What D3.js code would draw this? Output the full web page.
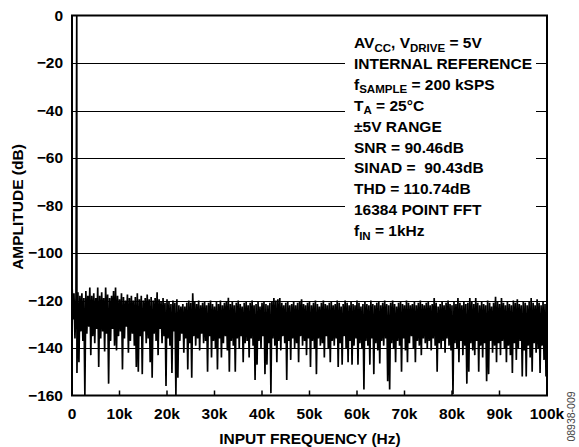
<!DOCTYPE html>
<html><head><meta charset="utf-8">
<script src="https://cdn.jsdelivr.net/npm/d3@7"></script>
<style>
html,body{margin:0;padding:0;background:#fff;}
svg{display:block;font-family:"Liberation Sans",Arial,sans-serif;}
</style></head>
<body>
<svg id="chart" width="579" height="447"></svg>
<script>
// ---- data ----
const yTicks = [0, -20, -40, -60, -80, -100, -120, -140, -160];
const xTicks = [0, 10, 20, 30, 40, 50, 60, 70, 80, 90, 100];
const xTickLabels = ["0","10k","20k","30k","40k","50k","60k","70k","80k","90k","100k"];
const binKHz = 100 / 240;          // spacing of the read-off noise samples (kHz)
const toneKHz = 1.0;               // fundamental
const toneDb = 0;
// upper (peak) readings of the noise floor, one per sample
const noiseHigh = [
-112,-117,-119,-116.5,-118,-117,-119,-116,-118,-114.5,-118,-117,-119,-114.5,-118,-116.5,-119,-114.5,-117.5,-119,
-118,-116,-114.5,-118,-119.5,-117,-118.5,-120,-117.5,-119,-118,-120,-118.5,-117,-119.5,-118,-120,-119,-117.5,-119.5,
-118.5,-120,-119,-116.5,-119.5,-120.5,-119,-121,-119.5,-120.5,-121.5,-120,-121,-119.5,-122,-122.5,-121.5,-122.5,-121,-120,
-121,-117,-120.5,-121.5,-120,-122,-121,-120.5,-122,-121,-120,-121.5,-122.5,-120.5,-121.5,-120,-122,-121,-120.5,-118.8,
-121.5,-120.5,-122,-121,-120,-121.5,-122.5,-121,-120.5,-122,-121,-120,-122,-121.5,-120.5,-122.5,-121,-120.5,-121.5,-122,
-121,-120.5,-119,-120,-119.5,-119,-121,-122,-121,-120.5,-122,-121.5,-120.5,-122,-121,-120.5,-119.5,-121.5,-122,-121,
-120.5,-122,-121,-120,-121.5,-122.5,-121,-120,-121.5,-122,-121,-120.5,-122,-121.5,-120,-121,-122.5,-121.5,-120,-121,
-122,-120.5,-121.5,-122,-120,-121,-122.5,-121.5,-120.5,-121.5,-122,-120,-121.5,-122,-121,-120.5,-122,-121,-120,-121.5,
-122,-121,-120,-121.5,-122.5,-121,-120.5,-121.5,-122,-120,-121,-122,-121.5,-120.5,-122,-121,-120,-121.5,-122,-121,
-120.5,-122,-121.5,-119,-121,-122.5,-121.5,-120.5,-122,-121,-120,-121.5,-122,-120.5,-121.5,-119,-121,-122,-120.5,-121.5,
-121,-119,-120.5,-121.5,-119,-121,-122,-120.5,-121.5,-122,-120,-121,-122.5,-121,-118.4,-120.5,-121.5,-119,-121,-122,
-120.5,-121.5,-122,-120,-121,-119.5,-121.5,-122,-120.5,-121,-122,-120.5,-119,-121,-122,-119.5,-121,-122,-120.5,-121.5
];
// lower (trough) readings of the noise floor, one per sample
const noiseLow = [
-128,-136,-150.5,-146,-133,-137,-160,-134,-131,-143,-135,-138,-132,-148,-136,-133,-141.5,-134,-155,-137,
-132,-139,-141,-135,-133,-149,-136,-131,-142,-137,-134,-139,-148,-150,-135,-151,-133,-138,-136,-146,
-152.5,-134,-137,-143,-132,-138,-135,-156,-136,-139,-150.5,-133,-160,-152.5,-137,-134,-142,-136,-149,-138,
-152.5,-135,-139,-136,-141,-134,-138,-137,-150,-135,-144,-137,-140,-149,-136,-144,-138,-135,-141,-150,
-137,-139,-150,-136,-140,-135,-146,-138,-137,-144,-136,-139,-153.5,-147,-137,-140,-135,-151,-147,-138,
-159,-136,-139,-146,-137,-141,-135,-138,-153.5,-137,-145,-136,-140,-138,-146,-135,-139,-137,-143,-136,
-148,-137,-140,-151,-136,-139,-138,-144,-135,-140,-146,-137,-139,-136,-148,-138,-147,-135,-140,-146,
-137,-147,-139,-136,-147,-138,-140,-157.5,-137,-139,-147,-136,-151,-138,-141,-146.5,-137,-139,-136,-154,
-157.5,-138,-140,-146,-137,-139,-150,-136,-141,-146,-138,-135,-140,-146,-137,-139,-143,-136,-138,-140,
-137,-141,-136,-139,-150,-138,-140,-137,-142,-136,-139,-141,-159.5,-138,-140,-146,-137,-143,-139,-155,
-150,-138,-141,-143,-137,-150,-139,-144,-138,-154,-151,-137,-142,-139,-146,-138,-143,-137,-140,-146,
-139,-143,-150.5,-138,-145,-140,-137,-152,-141,-152,-139,-144,-150,-138,-142,-140,-150.5,-139,-145,-152
];
const yTitle = "AMPLITUDE (dB)";
const xTitle = "INPUT FREQUENCY (Hz)";
const notes = [
  [["AV",""],["CC","sub"],[", V",""],["DRIVE","sub"],[" = 5V",""]],
  [["INTERNAL REFERENCE",""]],
  [["f",""],["SAMPLE","sub"],[" = 200 kSPS",""]],
  [["T",""],["A","sub"],[" = 25°C",""]],
  [["±5V RANGE",""]],
  [["SNR = 90.46dB",""]],
  [["SINAD =  90.43dB",""]],
  [["THD = 110.74dB",""]],
  [["16384 POINT FFT",""]],
  [["f",""],["IN","sub"],[" = 1kHz",""]]
];
const figId = "08938-009";

// ---- layout ----
const svg = d3.select("#chart");
const L = 72, R = 547, T = 15.5, B = 395.5;
const x = d3.scaleLinear().domain([0, 100]).range([L, R]);
const y = d3.scaleLinear().domain([-160, 0]).range([B, T]);
const FS = 15.5;

// series points
const pts = [];
noiseHigh.forEach((v, i) => {
  pts.push([i * binKHz, v]);
  pts.push([i * binKHz + binKHz / 2, noiseLow[i]]);
});
pts.push([toneKHz, toneDb]);
pts.sort((a, b) => a[0] - b[0]);

// clip
svg.append("defs").append("clipPath").attr("id", "clip")
  .append("rect").attr("x", L).attr("y", T).attr("width", R - L).attr("height", B - T);

// gridlines
svg.append("g").selectAll("line").data(yTicks.filter(d => d > -160 && d < 0)).join("line")
  .attr("x1", L).attr("x2", R).attr("y1", d => Math.round(y(d)) + 0.5).attr("y2", d => Math.round(y(d)) + 0.5)
  .attr("stroke", "#000").attr("stroke-width", 1);

// data line
svg.append("path").datum(pts)
  .attr("clip-path", "url(#clip)")
  .attr("fill", "none").attr("stroke", "#000").attr("stroke-width", 1.7)
  .attr("stroke-linejoin", "miter").attr("stroke-miterlimit", 1)
  .attr("d", d3.line().x(d => x(d[0])).y(d => y(d[1])));

// annotation box
const nx = 354, ny0 = 48, ndy = 20.9;
svg.append("rect").attr("x", 345).attr("y", 30).attr("width", 191).attr("height", 213).attr("fill", "#fff");
const nt = svg.append("g").attr("font-weight", "bold").attr("font-size", FS).attr("fill", "#000");
notes.forEach((parts, k) => {
  const t = nt.append("text").attr("x", nx).attr("y", ny0 + k * ndy).style("white-space", "pre");
  parts.forEach(([s, kind], j) => {
    const ts = t.append("tspan").text(s);
    if (kind === "sub") ts.attr("font-size", 11.5).attr("dy", 3.5);
    else if (j > 0) ts.attr("dy", -3.5);
  });
});

// frame
svg.append("rect").attr("x", L).attr("y", T).attr("width", R - L).attr("height", B - T)
  .attr("fill", "none").attr("stroke", "#000").attr("stroke-width", 2);

// x ticks (inward)
svg.append("g").selectAll("line").data(xTicks.slice(1, -1)).join("line")
  .attr("x1", d => x(d)).attr("x2", d => x(d)).attr("y1", B).attr("y2", B - 5)
  .attr("stroke", "#000").attr("stroke-width", 1.5);

// y tick labels
svg.append("g").attr("font-weight", "bold").attr("font-size", FS).attr("text-anchor", "end")
  .selectAll("text").data(yTicks).join("text")
  .attr("x", 63).attr("y", d => y(d) + 5.3)
  .text(d => d === 0 ? "0" : "\u2212" + Math.abs(d));

// x tick labels
svg.append("g").attr("font-weight", "bold").attr("font-size", FS).attr("text-anchor", "middle")
  .selectAll("text").data(xTicks).join("text")
  .attr("x", d => x(d)).attr("y", 418.5)
  .text((d, i) => xTickLabels[i]);

// axis titles
svg.append("text").attr("font-weight", "bold").attr("font-size", FS).attr("text-anchor", "middle")
  .attr("x", 310).attr("y", 443.5).text(xTitle);
svg.append("text").attr("font-weight", "bold").attr("font-size", FS).attr("text-anchor", "middle")
  .attr("transform", "translate(23,207) rotate(-90)").text(yTitle);

// figure id
svg.append("text").attr("font-size", 10.5).attr("fill", "#444").attr("text-anchor", "middle")
  .attr("transform", "translate(575,416.5) rotate(-90)").text(figId);
</script>
</body></html>
